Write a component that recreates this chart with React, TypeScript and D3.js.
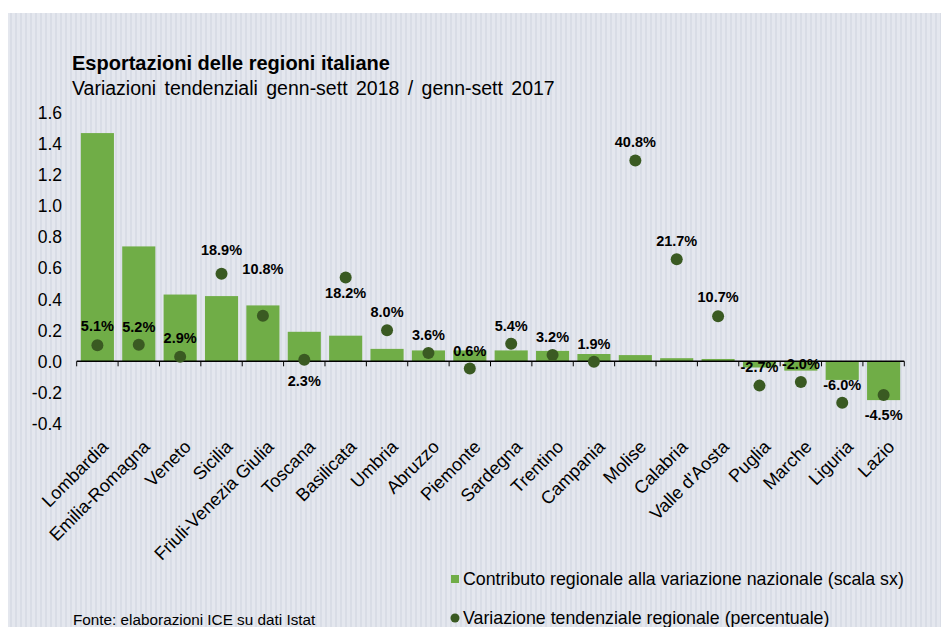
import React from "react";
import * as d3 from "d3";

const categories = [
  "Lombardia", "Emilia-Romagna", "Veneto", "Sicilia", "Friuli-Venezia Giulia",
  "Toscana", "Basilicata", "Umbria", "Abruzzo", "Piemonte", "Sardegna",
  "Trentino", "Campania", "Molise", "Calabria", "Valle d'Aosta", "Puglia",
  "Marche", "Liguria", "Lazio",
];
const contributo = [
  1.47, 0.74, 0.43, 0.42, 0.36, 0.19, 0.165, 0.08, 0.07, 0.07, 0.07,
  0.067, 0.047, 0.04, 0.02, 0.015, -0.04, -0.06, -0.12, -0.25,
];
const variazione = [
  5.1, 5.2, 2.9, 18.9, 10.8, 2.3, 18.2, 8.0, 3.6, 0.6, 5.4,
  3.2, 1.9, 40.8, 21.7, 10.7, -2.7, -2.0, -6.0, -4.5,
];
const leftTicks = [-0.4, -0.2, 0.0, 0.2, 0.4, 0.6, 0.8, 1.0, 1.2, 1.4, 1.6];
// label placement (px offset from dot centre) — layout, not data
const labelOffsets = [
  -19, -18, -19, -24, -47, 21, 15, -18, -18, -18, -18,
  -18, -18, -19, -19, -19, -19, -18, -18, 20,
];

const W = 941;
const H = 627;
const FONT = "'Liberation Sans', Arial, sans-serif";
const fmt = (v: number) => d3.format(".1f")(v).replace("\u2212", "-");

export default function App() {
  const x = d3
    .scaleBand<string>()
    .domain(categories)
    .range([76.7, 904.3])
    .paddingInner(0.2)
    .paddingOuter(0.1);
  const y = d3.scaleLinear().domain([-0.4, 1.6]).range([423.4, 112.9]);
  const y2 = d3.scaleLinear().domain([-10, 50]).range([423.4, 112.9]);
  const step = x.step();
  const x0 = 76.7;
  const y0 = y(0);

  return (
    <svg
      width={W}
      height={H}
      style={{ position: "absolute", left: 0, top: 0 }}
      fontFamily={FONT}
    >
      <defs>
        <pattern id="stripes" width="5" height="10" patternUnits="userSpaceOnUse">
          <rect width="5" height="10" fill="#e4e7ee" />
          <rect x="0" width="2" height="10" fill="#d9dde6" />
        </pattern>
      </defs>
      <rect x={0} y={0} width={W} height={H} fill="#ffffff" />
      <rect x={8} y={13} width={W - 8} height={H - 13} fill="url(#stripes)" />

      {/* title */}
      <text x={72} y={70} fontSize={20} fontWeight="bold" fill="#000">
        Esportazioni delle regioni italiane
      </text>
      <text x={72} y={95} fontSize={19.5} fill="#000" wordSpacing={3}>
        Variazioni tendenziali genn-sett 2018 / genn-sett 2017
      </text>

      {/* y ticks */}
      {leftTicks.map((t) => (
        <text
          key={t}
          x={62}
          y={y(t)}
          dy="0.36em"
          textAnchor="end"
          fontSize={17.5}
          fill="#000"
        >
          {fmt(t)}
        </text>
      ))}

      {/* bars */}
      {categories.map((c, i) => {
        const v = contributo[i];
        return (
          <rect
            key={c}
            x={x(c)}
            y={v >= 0 ? y(v) : y0}
            width={x.bandwidth()}
            height={Math.abs(y(v) - y0)}
            fill="#70ad47"
          />
        );
      })}

      {/* axis */}
      <line x1={x0} x2={904.3} y1={y0} y2={y0} stroke="#000" strokeWidth={1.5} />
      {d3.range(categories.length + 1).map((i) => (
        <line
          key={i}
          x1={x0 + i * step}
          x2={x0 + i * step}
          y1={y0}
          y2={y0 + 5}
          stroke="#000"
          strokeWidth={1}
        />
      ))}

      {/* dots */}
      {categories.map((c, i) => {
        const cx = (x(c) as number) + x.bandwidth() / 2;
        const cy = y2(variazione[i]);
        return (
          <g key={c}>
            <circle cx={cx} cy={cy} r={6} fill="#3a5a22" />
            <text
              x={cx}
              y={cy + labelOffsets[i]}
              dy="0.36em"
              textAnchor="middle"
              fontSize={14.5}
              fontWeight="bold"
              fill="#000"
            >
              {fmt(variazione[i]) + "%"}
            </text>
          </g>
        );
      })}

      {/* category labels */}
      {categories.map((c) => {
        const cx = (x(c) as number) + x.bandwidth() / 2 + 3;
        const ly = 439;
        return (
          <text
            key={c}
            x={cx}
            y={ly}
            dy="0.71em"
            textAnchor="end"
            fontSize={18}
            fill="#000"
            transform={`rotate(-45, ${cx}, ${ly})`}
          >
            {c}
          </text>
        );
      })}

      {/* legend */}
      <rect x={451} y={575} width={8} height={8} fill="#70ad47" />
      <text x={463} y={579} dy="0.36em" fontSize={17.8} fill="#000">
        Contributo regionale alla variazione nazionale (scala sx)
      </text>
      <circle cx={455} cy={618} r={4.5} fill="#3a5a22" />
      <text x={463} y={618} dy="0.33em" fontSize={17.8} fill="#000">
        Variazione tendenziale regionale (percentuale)
      </text>

      <text x={73} y={619} dy="0.36em" fontSize={15.3} fill="#000">
        Fonte: elaborazioni ICE su dati Istat
      </text>
    </svg>
  );
}
